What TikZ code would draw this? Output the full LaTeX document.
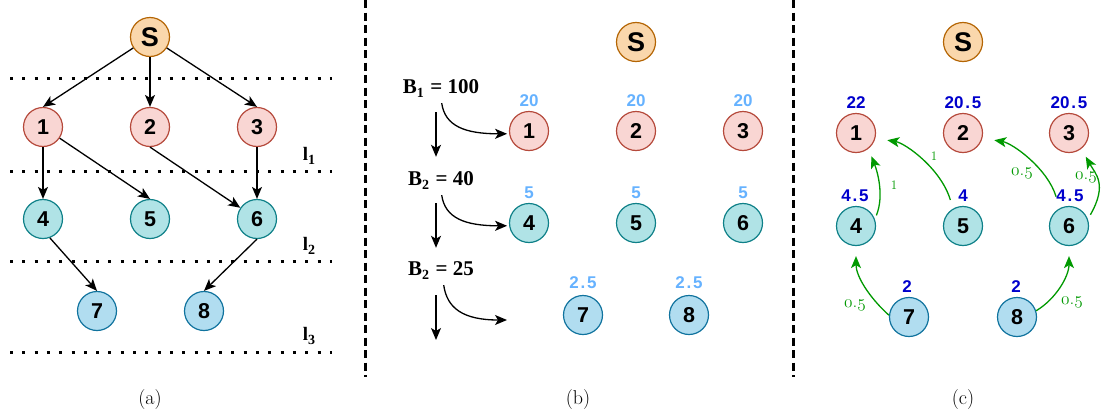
\documentclass[tikz,border=0pt]{standalone}
\usepackage{fontspec}
\newfontfamily\lsans{Liberation Sans}
\newfontfamily\lserif{Liberation Serif}
\usetikzlibrary{arrows.meta,calc}
\definecolor{sfill}{HTML}{FAD7AC}
\definecolor{sdraw}{HTML}{B46504}
\definecolor{rfill}{HTML}{F9D6D3}
\definecolor{rdraw}{HTML}{B5493B}
\definecolor{tfill}{HTML}{B0E3E6}
\definecolor{tdraw}{HTML}{0E8088}
\definecolor{bfill}{HTML}{B1DDF0}
\definecolor{bdraw}{HTML}{10739E}
\definecolor{lblue}{HTML}{66B2FF}
\definecolor{dblue}{HTML}{0000CC}
\definecolor{ggreen}{HTML}{009900}
\newcommand{\osn}[1]{{\usefont{OML}{cmm}{m}{it}#1}}
\newcommand{\ohalf}{\osn{0}.\osn{5}}
\newcommand{\sbl}[2]{{\lserif\bfseries #1\raisebox{-4.5pt}{\fontsize{14}{14}\selectfont #2}}}
\tikzset{
  nd/.style={circle, minimum size=39pt, inner sep=0pt, line width=1.2pt,
    font=\lsans\bfseries\fontsize{21.5}{21.5}\selectfont},
  snode/.style={nd, fill=sfill, draw=sdraw, font=\lsans\bfseries\fontsize{27}{27}\selectfont},
  rnode/.style={nd, fill=rfill, draw=rdraw},
  tnode/.style={nd, fill=tfill, draw=tdraw},
  bnode/.style={nd, fill=bfill, draw=bdraw},
  karrow/.style={-{Stealth[length=12pt,width=10pt,inset=3pt]}, line width=1.3pt},
  garrow/.style={-{Stealth[length=12pt,width=10pt,inset=3pt]}, line width=1.3pt, draw=ggreen, fill=none},
  dotline/.style={line width=3pt, dash pattern=on 3pt off 9.3pt},
  divline/.style={line width=3pt, dash pattern=on 8pt off 4.5pt},
  lvl/.style={inner sep=0pt, anchor=base, font=\fontsize{19}{19}\selectfont},
  blab/.style={inner sep=0pt, anchor=base, text height=14pt, text depth=5pt, font=\fontsize{21}{21}\selectfont},
  lbwt/.style={inner sep=0pt, text=lblue, font=\lsans\bfseries\fontsize{17}{17}\selectfont},
  dbwt/.style={inner sep=0pt, text=dblue, font=\lsans\bfseries\fontsize{17}{17}\selectfont},
  gwt/.style={inner sep=0pt, text=ggreen, font=\fontsize{19}{19}\selectfont},
  gone/.style={inner sep=0pt, text=ggreen, font=\fontsize{13}{13}\selectfont},
  capt/.style={inner sep=0pt, font=\fontsize{20}{20}\selectfont},
}
\begin{document}
\begin{tikzpicture}[x=1pt,y=-1pt]
\useasboundingbox (0,0) rectangle (1101,418);

% ---------- dividers ----------
\coordinate (v1t) at (365,0); \coordinate (v1b) at (365,377);
\coordinate (v2t) at (793,0); \coordinate (v2b) at (793,377);
\draw[divline] (v1t) -- (v1b);
\draw[divline] (v2t) -- (v2b);

% ---------- panel (a) ----------
\foreach \y [count=\i] in {78,171,261,352}{
  \coordinate (dl\i) at (10,\y); \coordinate (dr\i) at (332,\y);
  \draw[dotline] (dl\i) -- (dr\i);
}
\node[snode] (aS) at (150,37) {S};
\node[rnode] (a1) at (43,127) {1};
\node[rnode] (a2) at (150,127) {2};
\node[rnode] (a3) at (257,127) {3};
\node[tnode] (a4) at (43,219) {4};
\node[tnode] (a5) at (150,219) {5};
\node[tnode] (a6) at (257,219) {6};
\node[bnode] (a7) at (97,311) {7};
\node[bnode] (a8) at (204,311) {8};
\draw[karrow] (aS) -- (a1.north);
\draw[karrow] (aS) -- (a2);
\draw[karrow] (aS) -- (a3.north);
\draw[karrow] (a1) -- (a4);
\draw[karrow] (a1) -- (a5.north);
\draw[karrow] (a2.south) -- (a6);
\draw[karrow] (a3) -- (a6);
\draw[karrow] (a4.-70) -- (a7.north);
\draw[karrow] (a6.south) -- (a8.north);
\node[lvl] (l1) at (309,160) {\sbl{l}{1}};
\node[lvl] (l2) at (309,250) {\sbl{l}{2}};
\node[lvl] (l3) at (309,340) {\sbl{l}{3}};
\node[capt] (capa) at (150,400) {(a)};

% ---------- panel (b) ----------
\node[snode] (bS) at (636,42) {S};
\node[rnode] (b1) at (529,131) {1};
\node[rnode] (b2) at (636,131) {2};
\node[rnode] (b3) at (743,131) {3};
\node[tnode] (b4) at (529,223) {4};
\node[tnode] (b5) at (636,223) {5};
\node[tnode] (b6) at (743,223) {6};
\node[bnode] (b7) at (583,315) {7};
\node[bnode] (b8) at (689,315) {8};
\node[lbwt] (bw1) at (529,101) {20};
\node[lbwt] (bw2) at (636,101) {20};
\node[lbwt] (bw3) at (743,101) {20};
\node[lbwt] (bw4) at (529,193) {5};
\node[lbwt] (bw5) at (636,193) {5};
\node[lbwt] (bw6) at (743,193) {5};
\node[lbwt] (bw7) at (583,283) {2\kern1.8pt.\kern1.8pt5};
\node[lbwt] (bw8) at (689,283) {2\kern1.8pt.\kern1.8pt5};
\node[blab] (B1) at (441,93) {\sbl{B}{1} {\lserif\bfseries= 100}};
\node[blab] (B2) at (441,185) {\sbl{B}{2} {\lserif\bfseries= 40}};
\node[blab] (B3) at (441,275) {\sbl{B}{2} {\lserif\bfseries= 25}};
\coordinate (d3) at (436,340);
\coordinate (e3) at (507,320);
\draw[karrow, shorten <=14pt, shorten >=14pt] ([xshift=-5pt]B1.south) -- ([xshift=-5pt]B2.north);
\draw[karrow, shorten <=13pt, shorten >=13pt] ([xshift=-5pt]B2.south) -- ([xshift=-5pt]B3.north);
\draw[karrow, shorten <=15pt] ([xshift=-5pt]B3.south) -- (d3);
\draw[karrow, shorten <=5pt, shorten >=2pt] (B1.south) .. controls +(4,28) and +(-44,0) .. (b1.188);
\draw[karrow, shorten <=5pt, shorten >=2pt] (B2.south) .. controls +(4,28) and +(-44,0) .. (b4.188);
\draw[karrow, shorten <=5pt] ([xshift=2pt]B3.south) .. controls +(4,28) and +(-44,0) .. (e3);
\node[capt] (capb) at (578,400) {(b)};

% ---------- panel (c) ----------
\node[snode] (cS) at (963,42) {S};
\node[rnode] (c1) at (856,133) {1};
\node[rnode] (c2) at (963,133) {2};
\node[rnode] (c3) at (1069,133) {3};
\node[tnode] (c4) at (856,226) {4};
\node[tnode] (c5) at (963,226) {5};
\node[tnode] (c6) at (1069,226) {6};
\node[bnode] (c7) at (909,317) {7};
\node[bnode] (c8) at (1017,317) {8};
\node[dbwt] (cw1) at (856,103) {22};
\node[dbwt] (cw2) at (963,103) {20\kern1.8pt.\kern1.8pt5};
\node[dbwt] (cw3) at (1069,103) {20\kern1.8pt.\kern1.8pt5};
\node[dbwt] (cw4) at (855,196) {4\kern1.8pt.\kern1.8pt5};
\node[dbwt] (cw5) at (963,196) {4};
\node[dbwt] (cw6) at (1070,196) {4\kern1.8pt.\kern1.8pt5};
\node[dbwt] (cw7) at (907,287) {2};
\node[dbwt] (cw8) at (1016,287) {2};
\draw[garrow, shorten <=4pt, shorten >=8pt] (c4.20) .. controls +(10,-25) and +(8,20) .. (c1.-52);
\draw[garrow, shorten <=9pt, shorten >=12pt] (c5.120) .. controls +(-12,-40) and +(30,5) .. (c1.-15);
\draw[garrow, shorten <=12pt, shorten >=12pt] (c6.118) .. controls +(-12,-40) and +(30,5) .. (c2.-15);
\draw[garrow, shorten <=5pt, shorten >=9pt] (c6.20) .. controls +(20,-35) and +(14,25) .. (c3.-52);
\draw[garrow, shorten >=10pt] (c7.175) .. controls +(-20,-18) and +(0,30) .. (c4.south);
\draw[garrow, shorten >=10pt] (c8.18) .. controls +(20,-12) and +(0,30) .. (c6.south);
\node[gone] (g1) at (894,185) {1};
\node[gone] (g2) at (934,156) {1};
\node[gwt] (g3) at (1022,173) {\ohalf};
\node[gwt] (g4) at (1086,177) {\ohalf};
\node[gwt] (g5) at (855,305) {\ohalf};
\node[gwt] (g6) at (1072,302) {\ohalf};
\node[capt] (capc) at (963,400) {(c)};
\end{tikzpicture}
\end{document}
